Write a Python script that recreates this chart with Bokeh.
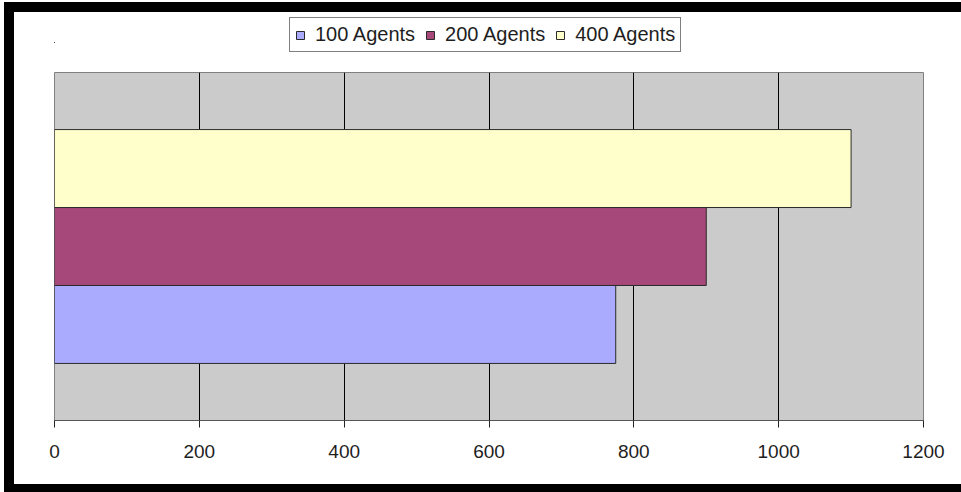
from bokeh.plotting import figure
from bokeh.layouts import column
from bokeh.models import (FactorRange, Range1d, FixedTicker, Legend, LegendItem,
                          ColumnDataSource)
from bokeh.transform import dodge
from bokeh.embed import file_html
from bokeh.resources import INLINE

# Runtime per run size (single group, three agent counts)
series = ["100 Agents", "200 Agents", "400 Agents"]
values = [775, 900, 1100]
colors = ["#aaaaff", "#a6497a", "#ffffcc"]
group = ["Run"]
x_ticks = [0, 200, 400, 600, 800, 1000, 1200]

FONT = "Liberation Sans"
BAR_H = 0.224
EDGE = "#2a2a2a"

# ---- main bar chart ----
p = figure(width=947, height=412, output_backend="svg", toolbar_location=None,
           y_range=FactorRange(factors=group, range_padding=0),
           x_range=Range1d(0, 1200), y_axis_location=None,
           min_border_left=40, min_border_right=38,
           min_border_top=0, min_border_bottom=64,
           background_fill_color="#cbcbcb", border_fill_color="white")
p.outline_line_color = "#808080"
p.outline_line_width = 1

offsets = [-BAR_H, 0.0, BAR_H]
for name, val, col, off in zip(series, values, colors, offsets):
    src = ColumnDataSource(dict(y=group, right=[val]))
    p.hbar(y=dodge("y", off, range=p.y_range), left=0, right="right",
           height=BAR_H, source=src, fill_color=col,
           line_color=EDGE, line_width=1)

p.xaxis.ticker = FixedTicker(ticks=x_ticks)
p.xaxis.axis_line_color = "#555555"
p.xaxis.major_tick_line_color = "#222222"
p.xaxis.major_tick_in = 0
p.xaxis.major_tick_out = 7
p.xaxis.minor_tick_line_color = None
p.xaxis.major_label_standoff = 17
p.xaxis.major_label_text_font = FONT
p.xaxis.major_label_text_font_size = "19px"
p.xaxis.major_label_text_color = "#1e1e1e"
p.xgrid.ticker = FixedTicker(ticks=x_ticks)
p.xgrid.grid_line_color = "black"
p.xgrid.grid_line_width = 1
p.ygrid.grid_line_color = None

# ---- legend strip above the chart ----
# Its x range starts past the largest value and the key bars are hairline
# thin, so only their legend swatches are seen.
lf = figure(width=947, height=60, output_backend="svg", toolbar_location=None,
            x_range=Range1d(1300, 1400), y_range=FactorRange(factors=group),
            x_axis_location=None, y_axis_location=None,
            min_border_left=40, min_border_right=38,
            min_border_top=0, min_border_bottom=0,
            background_fill_color="white", border_fill_color="white")
lf.outline_line_color = None
lf.grid.visible = False

items = []
for name, val, col in zip(series, values, colors):
    key = lf.hbar(y=group, left=0, right=[val], height=0.001, fill_color=col,
                  line_color=EDGE, line_width=1)
    items.append(LegendItem(label=name, renderers=[key]))

legend = Legend(items=items, orientation="horizontal", location=(235, 20),
                label_text_font=FONT, label_text_font_size="20px",
                label_text_color="#1e1e1e",
                glyph_width=10, glyph_height=10, label_standoff=10,
                spacing=10, padding=5, margin=0,
                border_line_color="black", border_line_width=1,
                background_fill_color="white", background_fill_alpha=1)
lf.add_layout(legend, "center")

# Heavy black frame on the left, top and bottom, drawn as element shadows
frame_css = {
    "margin-left": "14px",
    "margin-top": "12px",
    "box-shadow": ("-10px -10px 0 0 black, 0 -10px 0 0 black, "
                   "-10px 8px 0 0 black, 0 8px 0 0 black"),
}
page = column(lf, p, styles=frame_css)

open("out.html", "w").write(file_html(page, INLINE))
